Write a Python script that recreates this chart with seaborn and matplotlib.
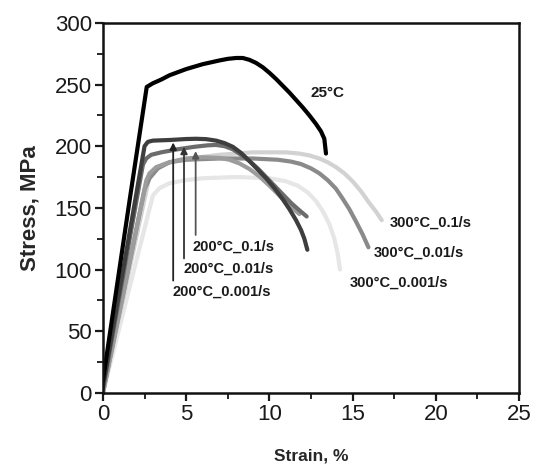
import numpy as np
import pandas as pd
import seaborn as sns
import matplotlib.pyplot as plt
from matplotlib.ticker import MultipleLocator

# ---- data ----
strain_25 = [0.0, 1.6, 2.63, 3.0, 3.5, 4.0, 4.5, 5.0, 5.5, 6.0, 6.5, 7.0, 7.5, 8.0, 8.4,
             8.8, 9.2, 9.6, 10.0, 10.4, 10.8, 11.2, 11.6, 12.0, 12.4, 12.8, 13.1, 13.3, 13.35, 13.4]
stress_25 = [10, 156, 248, 251, 254, 257.5, 260, 262.5, 264.5, 266.5, 268, 269.5, 270.8, 271.5, 271.5,
             270, 267.5, 264, 259.5, 254.5, 249, 243.5, 237.5, 231.5, 225, 218, 212, 206, 200, 194]

strain_200_0001 = [0.0, 2.5, 2.7, 3.0, 4.0, 5.0, 5.6, 6.2, 6.8, 7.3, 7.8, 8.3, 8.8, 9.3, 9.8,
                   10.3, 10.8, 11.2, 11.6, 11.9, 12.1, 12.28]
stress_200_0001 = [5, 200, 203.5, 204.5, 205, 205.8, 206, 205.7, 204.5, 202.5, 199.5, 194.5, 188, 181, 174,
                   166, 157, 149, 140, 132, 125, 116]

strain_200_001 = [0.0, 2.4, 2.6, 2.9, 3.5, 4.5, 5.5, 6.3, 6.8, 7.3, 7.8, 8.3, 8.8, 9.3, 9.8,
                  10.3, 10.8, 11.3, 11.8, 12.24]
stress_200_001 = [3, 185, 190, 193, 195, 197.5, 199.5, 200.7, 201, 200, 197.5, 193, 188, 182, 175,
                  168, 161, 154, 148, 143]

strain_200_01 = [0.0, 2.6, 2.8, 3.2, 4.0, 5.0, 6.0, 7.0, 7.6, 8.2, 8.8, 9.4, 10.0, 10.6, 11.2, 11.8]
stress_200_01 = [0, 172, 178, 183, 187, 190, 191, 190.5, 189, 186, 181.5, 175.5, 168, 160, 152, 145]

strain_300_01 = [0.0, 2.8, 3.1, 3.6, 4.5, 5.5, 7.0, 9.0, 11.0, 11.8, 12.4, 13.0, 13.5, 14.0, 14.5,
                 15.0, 15.5, 16.0, 16.4, 16.75]
stress_300_01 = [0, 176, 181, 185, 188.5, 190.5, 193, 195, 195, 194, 192.5, 190, 187, 183, 178,
                 171.5, 163.5, 154, 147, 140]

strain_300_001 = [0.0, 2.5, 2.8, 3.3, 4.0, 5.0, 7.0, 9.0, 10.5, 11.3, 11.9, 12.5, 13.0, 13.5, 14.0,
                  14.4, 14.8, 15.2, 15.6, 15.95]
stress_300_001 = [0, 165, 174, 182, 187, 189, 190, 190, 189, 187.5, 185.5, 182, 178, 172.5, 165.5,
                  157.5, 149, 139, 128.5, 118]

strain_300_0001 = [0.0, 3.0, 3.4, 4.0, 5.0, 6.0, 8.0, 10.0, 11.0, 11.7, 12.3, 12.8, 13.2, 13.6,
                   13.9, 14.1, 14.24]
stress_300_0001 = [0, 160, 166, 170, 172.5, 174, 175, 174, 171.5, 168, 162.5, 155.5, 147.5, 137,
                   125, 113, 100]

series_names = ["25°C", "200°C_0.001/s", "200°C_0.01/s", "200°C_0.1/s",
                "300°C_0.1/s", "300°C_0.01/s", "300°C_0.001/s"]
series_colors = ["#000000", "#3e3e3e", "#6c6c6c", "#9c9c9c",
                 "#d2d2d2", "#8a8a8a", "#e6e6e6"]

# label positions (strain, stress)
label_text_200 = ["200°C_0.1/s", "200°C_0.01/s", "200°C_0.001/s"]
label_xy_200 = [(5.41, 118.6), (4.83, 101), (4.19, 82)]
arrow_tip_200 = [(5.57, 196), (4.87, 199.5), (4.22, 203)]
arrow_tail_200 = [(5.57, 128), (4.87, 109), (4.22, 91)]
arrow_colors_200 = ["#555555", "#333333", "#222222"]

label_text_300 = ["300°C_0.1/s", "300°C_0.01/s", "300°C_0.001/s"]
label_xy_300 = [(17.25, 137.6), (16.24, 113.3), (14.8, 89)]

xticks = [0, 5, 10, 15, 20, 25]
yticks = [0, 50, 100, 150, 200, 250, 300]

# ---- build tidy frame ----
all_strain = [strain_25, strain_200_0001, strain_200_001, strain_200_01,
              strain_300_01, strain_300_001, strain_300_0001]
all_stress = [stress_25, stress_200_0001, stress_200_001, stress_200_01,
              stress_300_01, stress_300_001, stress_300_0001]
rows = []
for name, xs, ys in zip(series_names, all_strain, all_stress):
    for i, (x, y) in enumerate(zip(xs, ys)):
        rows.append({"series": name, "strain": x, "stress": y, "order": i})
df = pd.DataFrame(rows)

sns.set_style("ticks")
plt.rcParams['font.family'] = ['Liberation Sans', 'DejaVu Sans']

fig = plt.figure(figsize=(5.39, 4.66), dpi=100)
ax = fig.add_axes([0.191, 0.157, 0.772, 0.794])

# draw lighter series first so darker ones sit on top
draw_order = ["300°C_0.001/s", "300°C_0.1/s", "300°C_0.01/s",
              "200°C_0.1/s", "200°C_0.01/s", "200°C_0.001/s", "25°C"]
pal = dict(zip(series_names, series_colors))
for name in draw_order:
    sub = df[df.series == name]
    sns.lineplot(data=sub, x="strain", y="stress", color=pal[name],
                 sort=False, estimator=None, linewidth=3.0, ax=ax,
                 legend=False)
for ln in ax.lines:
    ln.set_solid_joinstyle("round")
    ln.set_solid_capstyle("round")

# arrows for 200°C
for tip, tail, c in zip(arrow_tip_200, arrow_tail_200, arrow_colors_200):
    ax.annotate("", xy=tip, xytext=tail,
                arrowprops=dict(arrowstyle="-|>", color=c, lw=1.3,
                                mutation_scale=10, shrinkA=0, shrinkB=0))

for t, (x, y) in zip(label_text_200, label_xy_200):
    ax.text(x, y, t, fontsize=10.5, fontweight="bold", ha="left", va="center",
            color="#1a1a1a")
for t, (x, y) in zip(label_text_300, label_xy_300):
    ax.text(x, y, t, fontsize=10.5, fontweight="bold", ha="left", va="center",
            color="#1a1a1a")
ax.text(12.44, 243, "25°C", fontsize=11, fontweight="bold", ha="left",
        va="center", color="#1a1a1a")

ax.set_xlim(0, 25)
ax.set_ylim(0, 300)
ax.set_xticks(xticks)
ax.set_yticks(yticks)
ax.xaxis.set_minor_locator(MultipleLocator(2.5))
ax.yaxis.set_minor_locator(MultipleLocator(25))
ax.tick_params(axis="both", which="major", direction="out", length=6,
               width=1.6, labelsize=16, colors="#1a1a1a", pad=2)
ax.tick_params(axis="both", which="minor", direction="out", length=4,
               width=1.4)
ax.tick_params(top=False, right=False, which="both")
for s in ax.spines.values():
    s.set_visible(True)
    s.set_linewidth(1.8)
    s.set_color("#111111")

ax.set_xlabel("Strain, %", fontsize=12.5, fontweight="bold", labelpad=17)
ax.set_ylabel("Stress, MPa", fontsize=16, fontweight="bold", labelpad=10)

fig.savefig("out.png", dpi=100)
